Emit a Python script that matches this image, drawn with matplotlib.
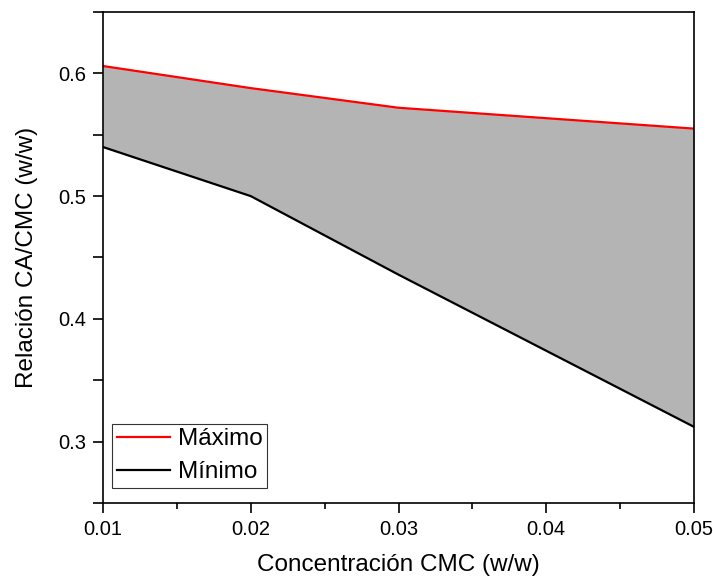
import matplotlib
matplotlib.use('Agg')
import matplotlib.pyplot as plt
from matplotlib.ticker import MultipleLocator

plt.rcParams['font.family'] = ['Liberation Sans', 'DejaVu Sans']

# data
conc = [0.01, 0.02, 0.03, 0.05]
maximo = [0.606, 0.588, 0.572, 0.555]
minimo = [0.540, 0.500, 0.436, 0.312]

fig = plt.figure(figsize=(7.13, 5.78), dpi=100)
ax = fig.add_axes([0.1445, 0.1298, 0.8289, 0.8494])

ax.fill_between(conc, minimo, maximo, color='#b4b4b4', linewidth=0)
ax.plot(conc, maximo, color='red', lw=1.6, label='Máximo')
ax.plot(conc, minimo, color='black', lw=1.6, label='Mínimo')

ax.set_xlim(0.01, 0.05)
ax.set_ylim(0.25, 0.65)
ax.xaxis.set_minor_locator(MultipleLocator(0.005))
ax.yaxis.set_minor_locator(MultipleLocator(0.05))
ax.set_xticks([0.01, 0.02, 0.03, 0.04, 0.05])
ax.set_xticklabels(['0.01', '0.02', '0.03', '0.04', '0.05'])
ax.set_yticks([0.3, 0.4, 0.5, 0.6])
ax.set_yticklabels(['0.3', '0.4', '0.5', '0.6'])

ax.tick_params(axis='both', which='major', direction='out', length=7, width=1.2,
               labelsize=14.5, pad=5)
ax.tick_params(axis='x', which='minor', direction='out', length=4, width=1.2)
ax.tick_params(axis='y', which='minor', direction='out', length=7, width=1.2)
ax.tick_params(top=False, right=False, which='both')
for s in ax.spines.values():
    s.set_linewidth(1.2)

ax.set_xlabel('Concentración CMC (w/w)', fontsize=17.5, labelpad=11)
ax.set_ylabel('Relación CA/CMC (w/w)', fontsize=17.5, labelpad=15)

leg = ax.legend(loc='lower left', fontsize=17.5, frameon=True, fancybox=False,
                edgecolor='black', handlelength=2.2, handletextpad=0.3,
                borderpad=0.2, labelspacing=0.45, borderaxespad=0,
                bbox_to_anchor=(0.015, 0.03))
leg.get_frame().set_linewidth(0.8)

fig.savefig('out.png', dpi=100)
